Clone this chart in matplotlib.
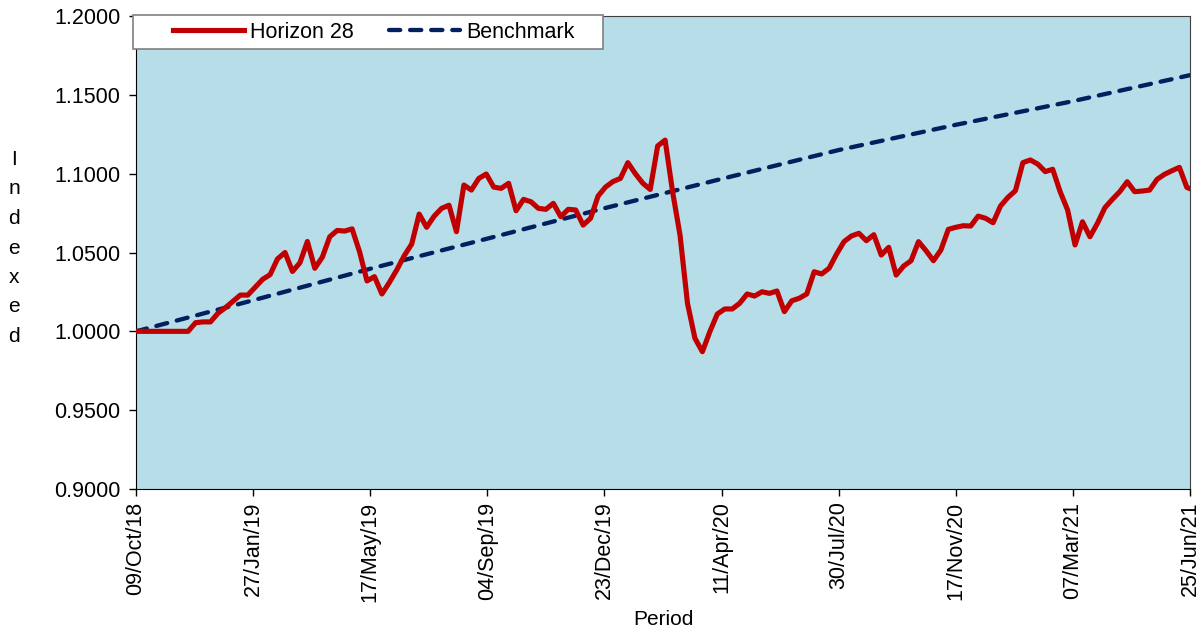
import numpy as np
import pandas as pd
import matplotlib
matplotlib.use("Agg")
import matplotlib.pyplot as plt
import matplotlib.dates as mdates
from matplotlib.patches import Rectangle

plt.rcParams['font.family'] = ['Liberation Sans', 'DejaVu Sans']

# weekly index values (first point 09/Oct/18), last point 25/Jun/21
horizon_values = [
    1.0000, 1.0000, 1.0000, 1.0000, 1.0000, 1.0000, 1.0000, 1.0000, 1.0055, 1.0060,
    1.0060, 1.0115, 1.0150, 1.0190, 1.0230, 1.0230, 1.0280, 1.0330, 1.0360, 1.0460,
    1.0500, 1.0380, 1.0435, 1.0570, 1.0400, 1.0470, 1.0600, 1.0640, 1.0636, 1.0650,
    1.0505, 1.0320, 1.0347, 1.0237, 1.0310, 1.0390, 1.0480, 1.0554, 1.0744, 1.0660,
    1.0730, 1.0780, 1.0800, 1.0632, 1.0928, 1.0896, 1.0970, 1.0998, 1.0915, 1.0907,
    1.0939, 1.0765, 1.0837, 1.0822, 1.0780, 1.0774, 1.0812, 1.0727, 1.0774, 1.0770,
    1.0674, 1.0717, 1.0858, 1.0915, 1.0950, 1.0970, 1.1070, 1.1000, 1.0940, 1.0900,
    1.1176, 1.1213, 1.0886, 1.0610, 1.0178, 0.9956, 0.9871, 0.9998, 1.0110, 1.0142,
    1.0142, 1.0178, 1.0237, 1.0224, 1.0251, 1.0241, 1.0256, 1.0125, 1.0194, 1.0210,
    1.0237, 1.0378, 1.0364, 1.0400, 1.0490, 1.0569, 1.0605, 1.0622, 1.0575, 1.0613,
    1.0484, 1.0533, 1.0357, 1.0414, 1.0448, 1.0569, 1.0512, 1.0448, 1.0516, 1.0647,
    1.0660, 1.0670, 1.0668, 1.0731, 1.0717, 1.0689, 1.0795, 1.0850, 1.0892, 1.1070,
    1.1087, 1.1061, 1.1013, 1.1028, 1.0886, 1.0770, 1.0548, 1.0695, 1.0600, 1.0685,
    1.0784, 1.0837, 1.0886, 1.0949, 1.0886, 1.0890, 1.0896, 1.0964, 1.0996, 1.1019,
    1.1040, 1.0913, 1.0905,
]

start_date = "2018-10-09"
end_date = "2021-06-25"

# benchmark read at the axis tick dates
bench_dates = ["2018-10-09", "2019-01-27", "2019-05-17", "2019-09-04", "2019-12-23",
               "2020-04-11", "2020-07-30", "2020-11-17", "2021-03-07", "2021-06-25"]
bench_values = [1.0000, 1.0197, 1.0397, 1.0588, 1.0781, 1.0967, 1.1150, 1.1310, 1.1460, 1.1625]

series_names = ["Horizon 28", "Benchmark"]
y_ticks = [0.90, 0.95, 1.00, 1.05, 1.10, 1.15, 1.20]

h_dates = list(pd.date_range(start_date, periods=len(horizon_values) - 1, freq="7D"))
h_dates.append(pd.Timestamp(end_date))
b_dates = pd.to_datetime(bench_dates)

fig = plt.figure(figsize=(12, 6.36), dpi=100)
ax = fig.add_axes([0.1133, 0.2311, 0.8784, 0.7437])
ax.set_facecolor('#b7dde8')

ax.plot(h_dates, horizon_values, color='#c00000', lw=3.7, solid_joinstyle='round',
        label=series_names[0], zorder=3)
ax.plot(b_dates, bench_values, color='#002060', lw=3.1, dashes=(2.6, 2.3),
        dash_capstyle='round', label=series_names[1], zorder=2)

ax.set_ylim(0.9, 1.2)
ax.set_yticks(y_ticks)
ax.yaxis.set_major_formatter(matplotlib.ticker.FormatStrFormatter('%.4f'))
ax.set_xlim(pd.Timestamp(start_date), pd.Timestamp(end_date))
ax.set_xticks(b_dates)
ax.xaxis.set_major_formatter(mdates.DateFormatter('%d/%b/%y'))
plt.setp(ax.get_xticklabels(), rotation=90)
ax.tick_params(labelsize=15.5, length=5, width=1, direction='out', pad=4)
ax.tick_params(axis='y', pad=6)

for s in ['left', 'bottom']:
    ax.spines[s].set_color('black')
for s in ['top', 'right']:
    ax.spines[s].set_color('#404040')

ax.set_xlabel('Period', fontsize=15, labelpad=6)
fig.text(14 / 1200, 1 - 248 / 636, '\n'.join('Indexed'), fontsize=15,
         ha='center', va='center', linespacing=1.7)

# legend box like the spreadsheet one
box = Rectangle((-0.003, 0.930), 0.446, 0.072, transform=ax.transAxes,
                facecolor='white', edgecolor='#808080', lw=1.2, clip_on=False, zorder=4)
ax.add_patch(box)
leg = ax.legend(loc='center left', bbox_to_anchor=(0.035, 0.966), ncol=2, frameon=False,
                fontsize=15.5, handlelength=3.3, handletextpad=0.3, columnspacing=1.6,
                borderpad=0, borderaxespad=0)
leg.set_zorder(5)

fig.savefig('out.png', dpi=100)
